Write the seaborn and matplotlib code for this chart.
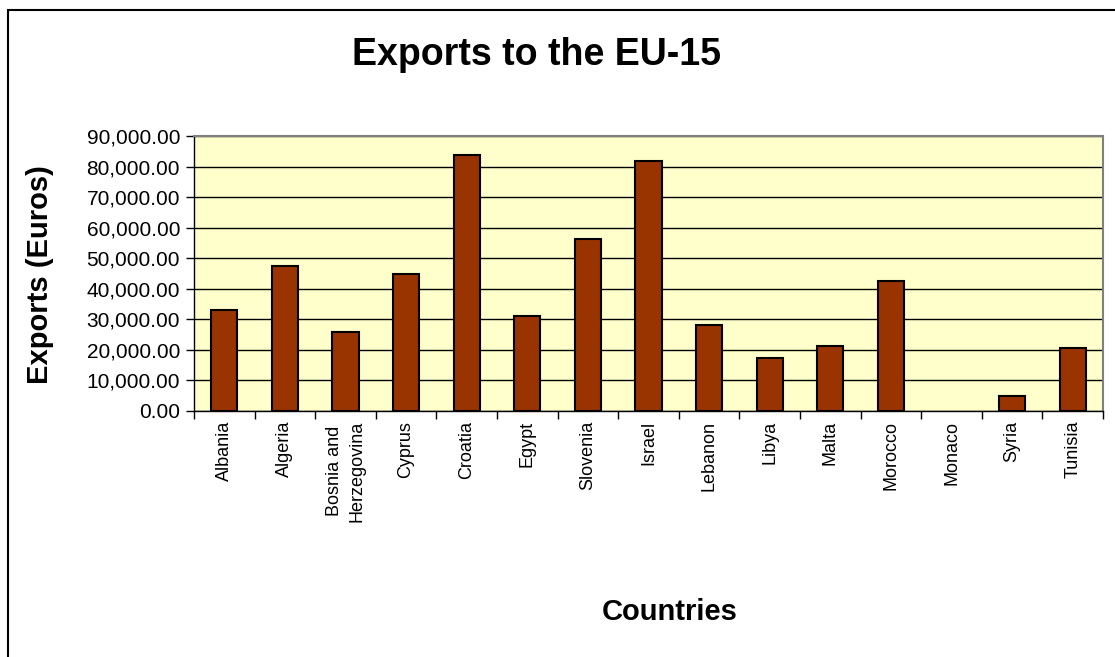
import matplotlib
matplotlib.use("Agg")
import matplotlib.pyplot as plt
import seaborn as sns
import pandas as pd
from matplotlib.patches import Rectangle
from matplotlib.ticker import FuncFormatter, MultipleLocator, FixedLocator

countries = ["Albania", "Algeria", "Bosnia and\nHerzegovina", "Cyprus", "Croatia",
             "Egypt", "Slovenia", "Israel", "Lebanon", "Libya", "Malta",
             "Morocco", "Monaco", "Syria", "Tunisia"]
exports = [33050, 47400, 25700, 44900, 83800, 31100, 56300, 81800,
           28000, 17500, 21200, 42400, 0, 5000, 20500]

df = pd.DataFrame({"Country": countries, "Exports": exports})

sns.set_style("white")
plt.rcParams["font.family"] = ["Liberation Sans", "DejaVu Sans"]
plt.rcParams["text.color"] = "black"
plt.rcParams["axes.labelcolor"] = "black"
plt.rcParams["xtick.color"] = "black"
plt.rcParams["ytick.color"] = "black"

fig = plt.figure(figsize=(11.15, 6.57), dpi=100)
ax = fig.add_axes([194 / 1115, 1 - 411 / 657, (1103 - 194) / 1115, (411 - 136) / 657])

sns.barplot(data=df, x="Country", y="Exports", ax=ax, color="#993300",
            saturation=1, width=0.43, edgecolor="black", linewidth=1.5, zorder=3)

for p in ax.patches:
    if p.get_height() == 0:
        p.set_linewidth(0)

ax.set_facecolor("#FFFFCC")
ax.set_ylim(0, 90000)
ax.set_xlim(-0.5, len(countries) - 0.5)
ax.yaxis.set_major_locator(MultipleLocator(10000))
ax.yaxis.set_major_formatter(FuncFormatter(lambda v, p: f"{v:,.2f}"))
ax.grid(axis="y", color="black", linewidth=1, zorder=1)
ax.set_axisbelow(True)

ax.set_xticks(range(len(countries)))
ax.set_xticklabels(countries, rotation=90, fontsize=13, va="top", ha="center",
                   multialignment="center", color="black", linespacing=1.45)
ax.tick_params(axis="x", which="major", length=0, pad=7)
ax.xaxis.set_minor_locator(FixedLocator([i - 0.5 for i in range(len(countries) + 1)]))
ax.tick_params(axis="x", which="minor", length=6, width=1, color="black", direction="out", bottom=True)
ax.tick_params(axis="y", which="major", length=6, width=1, color="black", direction="out",
               left=True, labelsize=15, pad=4, labelcolor="black")

for side in ["top", "right"]:
    ax.spines[side].set_color("#808080")
    ax.spines[side].set_linewidth(1.5)
for side in ["left", "bottom"]:
    ax.spines[side].set_color("black")
    ax.spines[side].set_linewidth(1)

ax.set_xlabel("")
ax.set_ylabel("")

fig.text(537 / 1115, 1 - 55 / 657, "Exports to the EU-15", ha="center", va="center",
         fontsize=27, fontweight="bold", color="black")
fig.text(40 / 1115, 1 - 275 / 657, "Exports (Euros)", ha="center", va="center",
         rotation=90, fontsize=21, fontweight="bold", color="black")
fig.text(670 / 1115, 1 - 612 / 657, "Countries", ha="center", va="center",
         fontsize=21, fontweight="bold", color="black")

fig.patches.append(Rectangle((8 / 1115, -0.1), 1.2, 1.1 - 10 / 657, transform=fig.transFigure,
                             fill=False, edgecolor="black", linewidth=1.5))

fig.savefig("out.png", dpi=100)
